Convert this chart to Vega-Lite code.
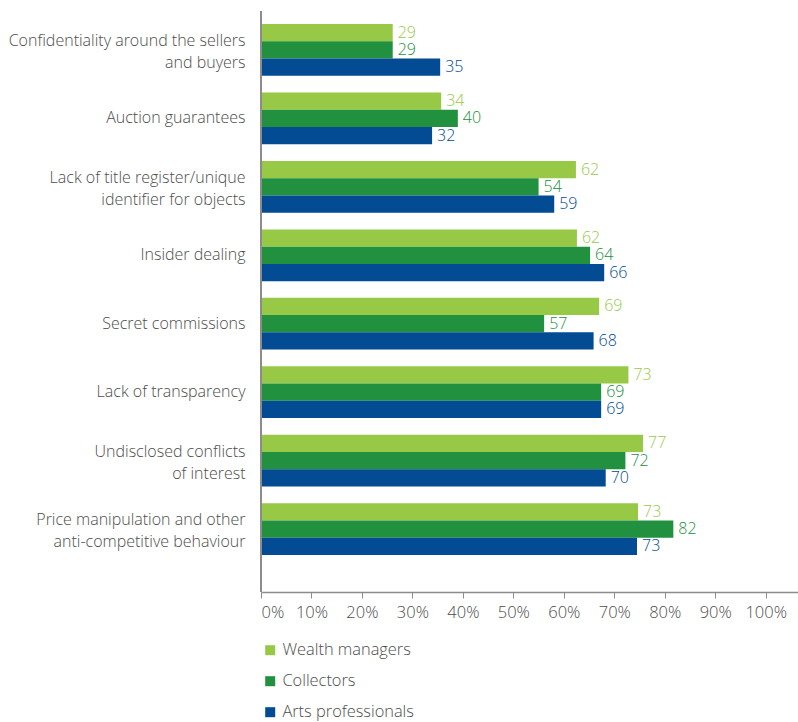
{
  "$schema": "https://vega.github.io/schema/vega-lite/v6.json",
  "width": 537,
  "height": 581,
  "autosize": {"type": "none"},
  "padding": {"left": 261, "top": 11, "right": 0, "bottom": 130},
  "config": {"view": {"stroke": null}, "font": "Open Sans"},
  "data": {
    "values": [
      {"issue": "Confidentiality around the sellers|and buyers", "group": "Wealth managers", "pct": 0.261, "label": "29"},
      {"issue": "Confidentiality around the sellers|and buyers", "group": "Collectors", "pct": 0.261, "label": "29"},
      {"issue": "Confidentiality around the sellers|and buyers", "group": "Arts professionals", "pct": 0.355, "label": "35"},
      {"issue": "Auction guarantees", "group": "Wealth managers", "pct": 0.357, "label": "34"},
      {"issue": "Auction guarantees", "group": "Collectors", "pct": 0.390, "label": "40"},
      {"issue": "Auction guarantees", "group": "Arts professionals", "pct": 0.339, "label": "32"},
      {"issue": "Lack of title register/unique|identifier for objects", "group": "Wealth managers", "pct": 0.624, "label": "62"},
      {"issue": "Lack of title register/unique|identifier for objects", "group": "Collectors", "pct": 0.550, "label": "54"},
      {"issue": "Lack of title register/unique|identifier for objects", "group": "Arts professionals", "pct": 0.581, "label": "59"},
      {"issue": "Insider dealing", "group": "Wealth managers", "pct": 0.626, "label": "62"},
      {"issue": "Insider dealing", "group": "Collectors", "pct": 0.652, "label": "64"},
      {"issue": "Insider dealing", "group": "Arts professionals", "pct": 0.680, "label": "66"},
      {"issue": "Secret commissions", "group": "Wealth managers", "pct": 0.670, "label": "69"},
      {"issue": "Secret commissions", "group": "Collectors", "pct": 0.561, "label": "57"},
      {"issue": "Secret commissions", "group": "Arts professionals", "pct": 0.659, "label": "68"},
      {"issue": "Lack of transparency", "group": "Wealth managers", "pct": 0.728, "label": "73"},
      {"issue": "Lack of transparency", "group": "Collectors", "pct": 0.674, "label": "69"},
      {"issue": "Lack of transparency", "group": "Arts professionals", "pct": 0.674, "label": "69"},
      {"issue": "Undisclosed conflicts|of interest", "group": "Wealth managers", "pct": 0.757, "label": "77"},
      {"issue": "Undisclosed conflicts|of interest", "group": "Collectors", "pct": 0.722, "label": "72"},
      {"issue": "Undisclosed conflicts|of interest", "group": "Arts professionals", "pct": 0.683, "label": "70"},
      {"issue": "Price manipulation and other|anti-competitive behaviour", "group": "Wealth managers", "pct": 0.747, "label": "73"},
      {"issue": "Price manipulation and other|anti-competitive behaviour", "group": "Collectors", "pct": 0.817, "label": "82"},
      {"issue": "Price manipulation and other|anti-competitive behaviour", "group": "Arts professionals", "pct": 0.745, "label": "73"}
    ]
  },
  "layer": [
    {
      "mark": {"type": "bar"},
      "encoding": {
        "y": {
          "field": "issue",
          "type": "nominal",
          "sort": null,
          "scale": {"range": [13, 544], "paddingInner": 0.2445, "paddingOuter": 0},
          "axis": {
            "title": null,
            "labelExpr": "split(datum.label, '|')",
            "labelFontSize": 16,
            "labelFontWeight": 300,
            "labelColor": "#4d4d4d",
            "labelLineHeight": 22,
            "labelPadding": 16,
            "labelLimit": 300,
            "labelOffset": {"condition": {"test": "indexof(datum.value, '|') >= 0", "value": -9}, "value": 0},
            "ticks": false,
            "domain": false
          }
        },
        "yOffset": {
          "field": "group",
          "type": "nominal",
          "sort": ["Wealth managers", "Collectors", "Arts professionals"],
          "scale": {"paddingInner": 0, "paddingOuter": 0}
        },
        "x": {
          "field": "pct",
          "type": "quantitative",
          "scale": {"domain": [0, 1.064], "nice": false},
          "axis": {
            "title": null,
            "values": [0, 0.1, 0.2, 0.3, 0.4, 0.5, 0.6, 0.7, 0.8, 0.9, 1],
            "format": ".0%",
            "labelFontSize": 16.5,
            "labelFontWeight": 300,
            "labelColor": "#4d4d4d",
            "labelPadding": 6,
            "tickSize": 6,
            "tickColor": "#8c8c8c",
            "domainColor": "#8c8c8c",
            "domainWidth": 1.5,
            "grid": false
          }
        },
        "color": {
          "field": "group",
          "type": "nominal",
          "sort": ["Wealth managers", "Collectors", "Arts professionals"],
          "scale": {
            "domain": ["Wealth managers", "Collectors", "Arts professionals"],
            "range": ["#97C947", "#21903F", "#034B93"]
          },
          "legend": {
            "orient": "none",
            "legendX": 1,
            "legendY": 631,
            "direction": "vertical",
            "title": null,
            "symbolType": "square",
            "symbolSize": 100,
            "symbolStrokeWidth": 0,
            "labelFontSize": 16.4,
            "labelFontWeight": 300,
            "labelColor": "#4d4d4d",
            "labelOffset": 4,
            "rowPadding": 14,
            "padding": 0
          }
        }
      }
    },
    {
      "mark": {"type": "text", "align": "left", "baseline": "middle", "dx": 5, "fontSize": 16, "fontWeight": 300},
      "encoding": {
        "y": {"field": "issue", "type": "nominal", "sort": null},
        "yOffset": {"field": "group", "type": "nominal", "sort": ["Wealth managers", "Collectors", "Arts professionals"]},
        "x": {"field": "pct", "type": "quantitative"},
        "color": {"field": "group", "type": "nominal"},
        "text": {"field": "label"}
      }
    },
    {
      "mark": {"type": "rule", "color": "#8c8c8c", "strokeWidth": 1.5},
      "encoding": {"x": {"datum": 0}}
    }
  ]
}
